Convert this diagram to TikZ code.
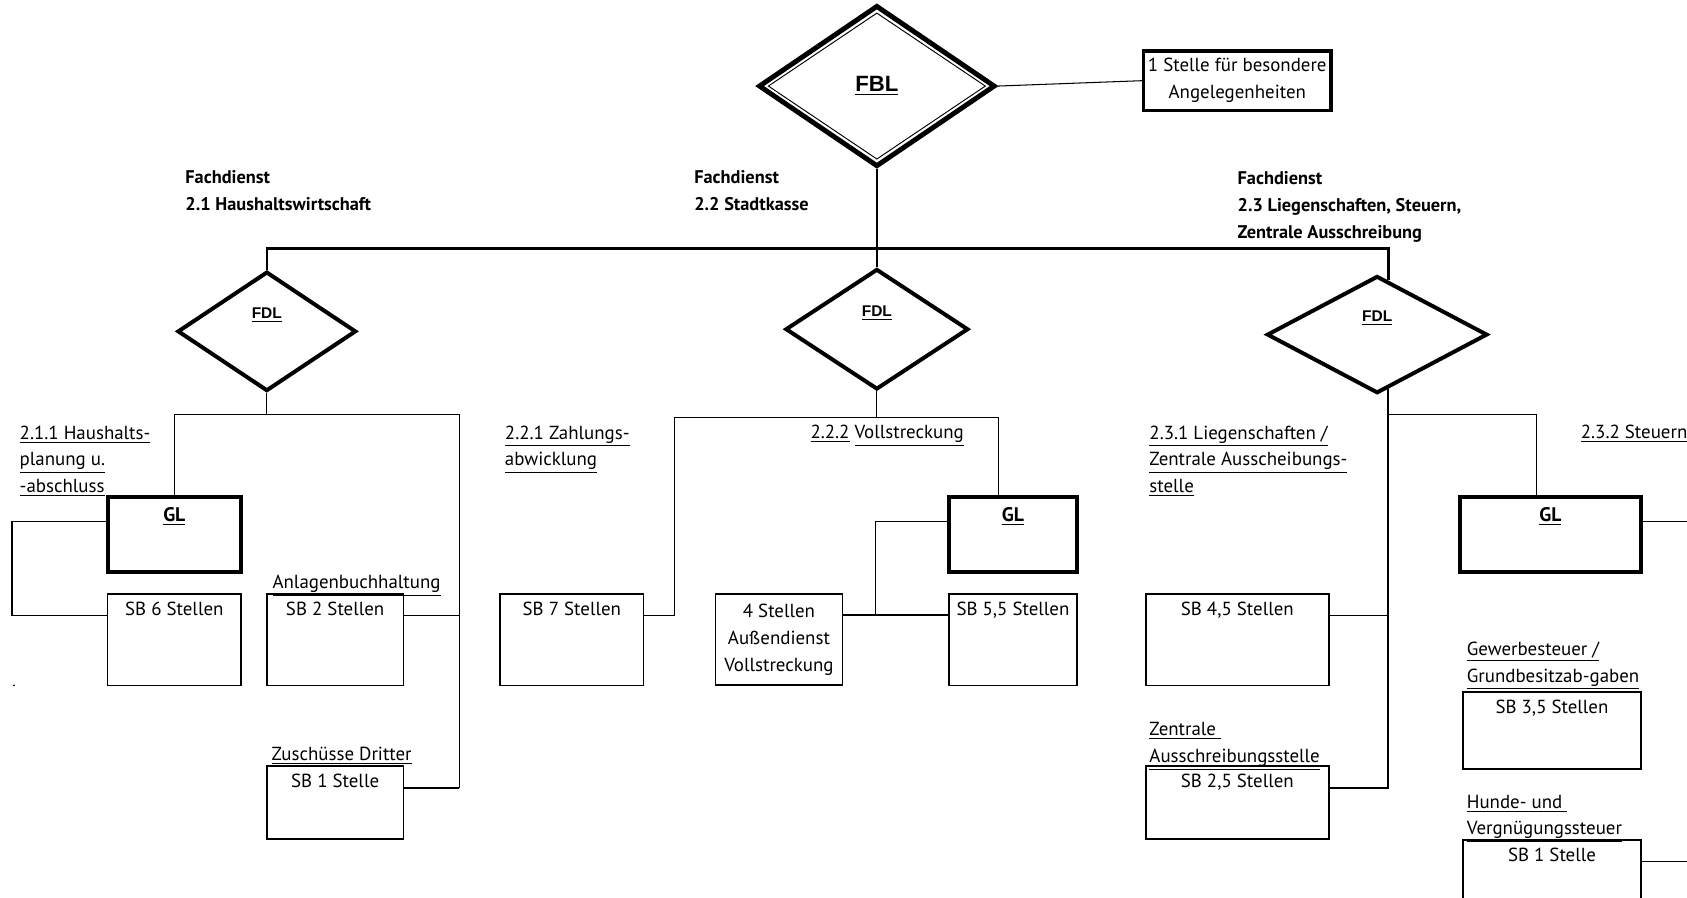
\documentclass[tikz,border=0pt]{standalone}
\usepackage{fontspec}
\setmainfont{PT Sans}
\newfontfamily\arialfont{Liberation Sans}
\usetikzlibrary{shapes.geometric,calc}
\tikzset{>=stealth}
\tikzset{
  every node/.style={font=\fontsize{10}{14.2}\selectfont},
  linie/.style={line width=0.55pt},
  dick/.style={line width=1pt},
  bus/.style={line width=1.2pt},
  raute/.style={diamond, draw, line width=2.1pt, inner sep=0pt, text height=6pt, text depth=19.6pt, font=\arialfont\bfseries\fontsize{8.2}{10}\selectfont},
  kasten/.style={draw, line width=0.9pt, inner sep=3pt, text height=8.4pt, text depth=34pt},
  kastenk/.style={kasten, text depth=24.3pt},
  gl/.style={kasten, line width=2.1pt, text height=10pt, text depth=23.8pt, font=\bfseries\fontsize{10.4}{12}\selectfont},
  etikett/.style={anchor=base west, align=left, inner sep=0pt},
  fachdienst/.style={etikett, font=\bfseries\fontsize{9.7}{14.5}\selectfont}
}
\begin{document}
\begin{tikzpicture}[x=0.02cm, y=-0.02cm]
\useasboundingbox (0,0) rectangle (1568,834);
\node[diamond, draw, line width=2.6pt, minimum width=4.4cm, minimum height=3cm, inner sep=0pt] (fbl) at (815,80) {};
\node[diamond, draw, line width=0.5pt, minimum width=4.04cm, minimum height=2.72cm, inner sep=0pt, font=\arialfont\bfseries\fontsize{11.7}{14}\selectfont] (fblinnen) at (fbl) {\underline{FBL}};
\node[draw, line width=1.8pt, minimum width=3.48cm, minimum height=1.1cm, inner sep=0pt, align=center] (stelle) at (1150,75) {1 Stelle für besondere\\Angelegenheiten};
\draw[linie] (fbl.east) -- (stelle.west);
\node[fachdienst] (fda) at (172,196) {Fachdienst\\2.1 Haushaltswirtschaft};
\node[fachdienst] (fdb) at (645,196) {Fachdienst\\2.2 Stadtkasse};
\node[fachdienst] (fdc) at (1150,222) {Fachdienst\\2.3 Liegenschaften, Steuern,\\Zentrale Ausschreibung};
\node[raute, minimum width=3.32cm, minimum height=2.22cm] (fdla) at (248,308) {\underline{FDL}};
\node[raute, minimum width=3.4cm, minimum height=2.24cm] (fdlb) at (815,306) {\underline{FDL}};
\node[raute, minimum width=4.1cm, minimum height=2.18cm] (fdlc) at (1280,311) {\underline{FDL}};
\coordinate (kco) at ($(fdlc.north)!0.1!(fdlc.east)$);
\coordinate (kcu) at ($(fdlc.south)!0.1!(fdlc.east)$);
\draw[bus] (fdla.north) |- (kco |- 0,231) -- (kco);
\draw[bus] (fbl.south) -- (fdlb.north);
\node[gl, minimum width=2.48cm] (gla) at (162,497) {\underline{GL}};
\node[kasten, minimum width=2.48cm] (sba) at (162,594.5) {SB 6 Stellen};
\node[kasten, minimum width=2.54cm] (sbb) at (311.5,594.5) {SB 2 Stellen};
\node[kastenk, minimum width=2.54cm] (sbc) at (311.5,746) {SB 1 Stelle};
\node[kasten, minimum width=2.66cm] (sbd) at (531.5,594.5) {SB 7 Stellen};
\node[draw, line width=0.9pt, minimum width=2.36cm, minimum height=1.7cm, inner sep=0pt, align=center] (vs) at (724,594.5) {4 Stellen\\Außendienst\\Vollstreckung};
\node[gl, minimum width=2.38cm] (glb) at (941.5,497) {\underline{GL}};
\node[kasten, minimum width=2.38cm] (sbe) at (941.5,594.5) {SB 5,5 Stellen};
\node[kasten, minimum width=3.4cm] (sbf) at (1150,594.5) {SB 4,5 Stellen};
\node[kastenk, minimum width=3.4cm] (sbg) at (1150,746) {SB 2,5 Stellen};
\node[gl, minimum width=3.36cm] (glc) at (1441,497) {\underline{GL}};
\node[kasten, text depth=26.6pt, minimum width=3.3cm] (sbh) at (1442.5,679) {SB 3,5 Stellen};
\node[kasten, text depth=45pt, minimum width=3.3cm] (sbi) at (1442.5,833) {SB 1 Stelle};
\node[etikett] (l211) at (18,458) {\underline{2.1.1 Haushalts-}\\\underline{planung u.}\\\underline{-abschluss}};
\node[etikett] (lanl) at (253,547) {\underline{Anlagenbuchhaltung}};
\node[etikett] (lzus) at (252,707) {\underline{Zuschüsse Dritter}};
\node[etikett] (l221) at (469,433) {\underline{2.2.1 Zahlungs-}\\\underline{abwicklung}};
\node[etikett] (l222) at (753,408) {\underline{2.2.2} \underline{Vollstreckung}};
\node[etikett] (l231) at (1068,458) {\underline{2.3.1 Liegenschaften /}\\\underline{Zentrale Ausscheibungs-}\\\underline{stelle}};
\node[etikett] (l232) at (1469,408) {\underline{2.3.2 Steuern}};
\node[etikett] (lzas) at (1068,709) {\underline{Zentrale\ }\\\underline{Ausschreibungsstelle}};
\node[etikett] (lgew) at (1363,634) {\underline{Gewerbesteuer /}\\\underline{Grundbesitzab-gaben}};
\node[etikett] (lhun) at (1363,776) {\underline{Hunde- und\ }\\\underline{Vergnügungssteuer}};
\draw[linie] (fdla.south) -- (fdla.south |- 0,385);
\draw[linie] (gla.north) |- (427,385) |- (sbc.base east);
\draw[dick] (sbc.base east) -- (sbc.base east -| 427,0);
\draw[linie] (sbb.base east) -- (sbb.base east -| 427,0);
\draw[linie] (gla.base west) -- ++(-87,0) |- (sba.base west);
\fill (13,637) circle (0.5pt);
\draw[linie] (fdlb.south) -- (fdlb.south |- 0,388);
\draw[linie] (sbd.base east) -| (627,388) -- (928,388) -- (928,0 |- glb.north);
\draw[linie] (glb.base west) -- ++(-66,0) |- (sbe.base west);
\draw[dick] (vs.east |- sbe.base west) -- (sbe.base west);
\draw[dick] (kcu) |- (sbg.base east);
\draw[linie] (kcu |- 0,385) -- (1428,385) -- (1428,0 |- glc.north);
\draw[linie] (sbf.base east) -- (sbf.base east -| kcu);
\draw[linie] (glc.base east) -- ++(60,0);
\draw[linie] (sbi.base east) -- ++(60,0);
\end{tikzpicture}
\end{document}
